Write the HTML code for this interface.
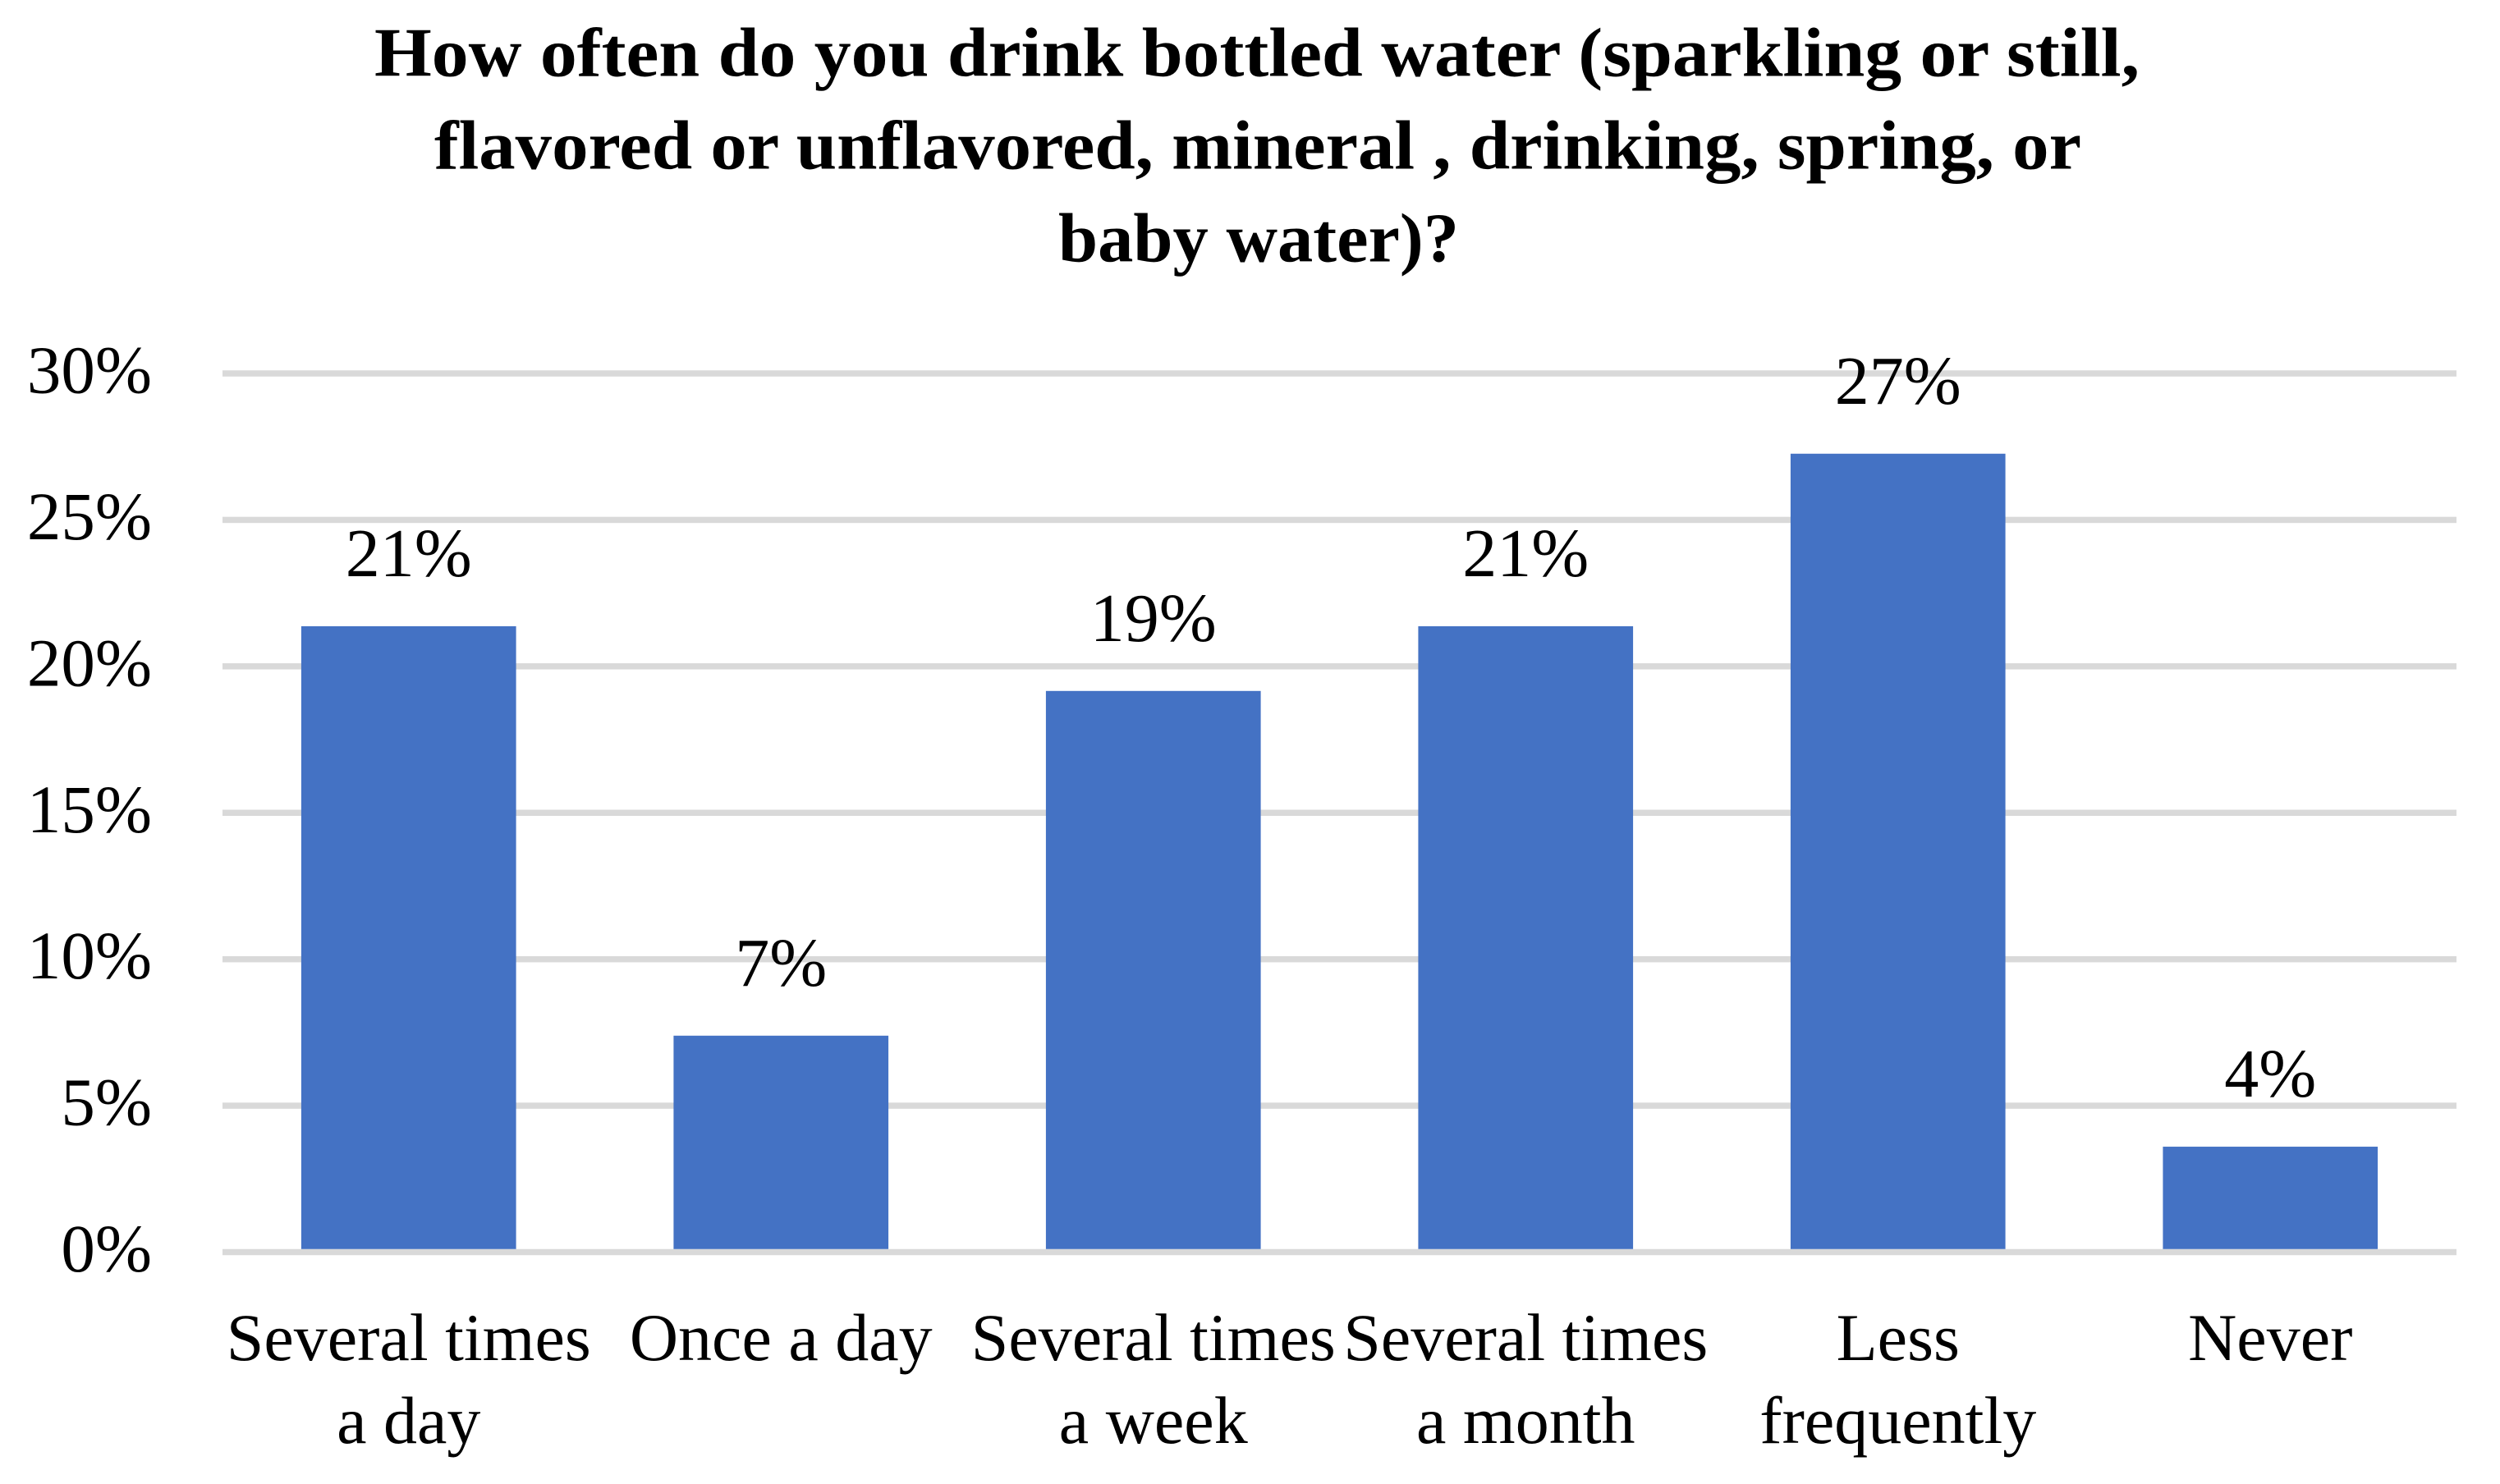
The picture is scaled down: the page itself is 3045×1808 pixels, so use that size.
<!DOCTYPE html>
<html lang="en">
<head>
<meta charset="utf-8">
<title>Bottled water drinking frequency</title>
<style>
  html, body { margin: 0; padding: 0; background: #fff; }
  body { width: 3045px; height: 1808px; overflow: hidden; }
  svg { display: block; font-family: "Liberation Serif", serif; fill: #000; }
  .title { font-size: 85px; font-weight: bold; }
  .num { font-size: 84px; }
  .tick { font-size: 83px; }
  .cat { font-size: 82px; }
</style>
</head>
<body>
<svg id="chart" xmlns="http://www.w3.org/2000/svg" width="3045" height="1808" viewBox="0 0 3045 1808">
  <rect x="0" y="0" width="3045" height="1808" fill="#ffffff"/>
  <g>
    <text class="title" x="456" y="92.5" textLength="2150" lengthAdjust="spacingAndGlyphs">How often do you drink bottled water (sparkling or still,</text>
    <text class="title" x="529" y="205.5" textLength="2006" lengthAdjust="spacingAndGlyphs">flavored or unflavored, mineral , drinking, spring, or</text>
    <text class="title" x="1289" y="318.5" textLength="488" lengthAdjust="spacingAndGlyphs">baby water)?</text>
  </g>
  <g id="grid"></g>
  <g id="yticks"></g>
  <g id="bars"></g>
  <g id="values"></g>
  <g id="cats"></g>
</svg>
<script>
const categories = [
  ["Several times", "a day"],
  ["Once a day"],
  ["Several times", "a week"],
  ["Several times", "a month"],
  ["Less", "frequently"],
  ["Never"]
];
const seriesValues = [21.37, 7.39, 19.16, 21.37, 27.26, 3.6];
const valueLabels = ["21%", "7%", "19%", "21%", "27%", "4%"];
const tickValues = [0, 5, 10, 15, 20, 25, 30];
const tickLabels = ["0%", "5%", "10%", "15%", "20%", "25%", "30%"];

const plotLeft = 271, plotRight = 2992, plotBottom = 1525.5, plotTop = 455;
const yMax = 30;
const gridThickness = 7.5;
const NS = "http://www.w3.org/2000/svg";
const band = (plotRight - plotLeft) / categories.length;
const barWidth = band * 0.577;

function yScale(v) { return plotBottom - (v / yMax) * (plotBottom - plotTop); }
function xCenter(i) { return plotLeft + band * (i + 0.5); }
function make(tag, parent) {
  const el = document.createElementNS(NS, tag);
  parent.appendChild(el);
  return el;
}

const barsG = document.getElementById("bars");
const valuesG = document.getElementById("values");
const catsG = document.getElementById("cats");
const gridG = document.getElementById("grid");
const ticksG = document.getElementById("yticks");

tickValues.forEach(function (v, i) {
  const line = make("rect", gridG);
  
  
  line.setAttribute("x", plotLeft);
  line.setAttribute("y", yScale(v) - gridThickness / 2);
  line.setAttribute("width", plotRight - plotLeft);
  line.setAttribute("height", gridThickness);
  line.setAttribute("fill", "#d9d9d9");

  const tick = make("text", ticksG);
  
  
  tick.setAttribute("class", "tick");
  tick.setAttribute("x", 185);
  tick.setAttribute("y", yScale(v) + 23.5);
  tick.setAttribute("text-anchor", "end");
  tick.textContent = tickLabels[i];
});

seriesValues.forEach(function (v, i) {
  const bar = make("rect", barsG);
  
  
  bar.setAttribute("x", xCenter(i) - barWidth / 2);
  bar.setAttribute("y", yScale(v));
  bar.setAttribute("width", barWidth);
  bar.setAttribute("height", plotBottom - gridThickness / 2 - yScale(v));
  bar.setAttribute("fill", "#4472c4");

  const label = make("text", valuesG);
  
  
  label.setAttribute("class", "num");
  label.setAttribute("x", xCenter(i));
  label.setAttribute("y", yScale(v) - 61);
  label.setAttribute("text-anchor", "middle");
  label.textContent = valueLabels[i];
});

categories.forEach(function (lines, i) {
  lines.forEach(function (line, j) {
    const t = make("text", catsG);
    
    
    t.setAttribute("class", "cat");
    t.setAttribute("x", xCenter(i));
    t.setAttribute("y", 1657 + j * 101);
    t.setAttribute("text-anchor", "middle");
    t.textContent = line;
  });
});
</script>
</body>
</html>
